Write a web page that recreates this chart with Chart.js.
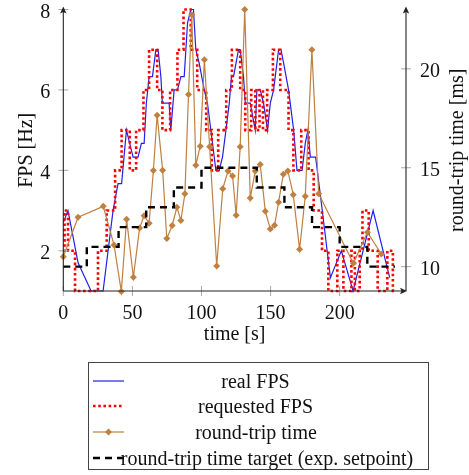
<!DOCTYPE html>
<html>
<head>
<meta charset="utf-8">
<script src="https://cdn.jsdelivr.net/npm/chart.js@4.4.1/dist/chart.umd.min.js"></script>
<style>
  html, body { margin: 0; padding: 0; background: #fff; }
</style>
</head>
<body>
<canvas id="fps-chart" width="469" height="475"></canvas>
<script>
// real FPS as measured (time [s], FPS [Hz])
const realTime = [0, 3.4, 10.7, 20.1, 28.8, 36.0, 39.6, 42.2, 45.7, 50.5, 54.1, 56.5, 58.5, 60.1, 62.1, 64.5,
  67.0, 68.6, 70.6, 71.7, 76.6, 77.8, 80.2, 82.6, 85.1, 87.5, 89.9, 92.3, 94.2, 95.9, 98.3, 102.0, 104.3,
  106.8, 110.4, 112.8, 115.2, 117.7, 120.1, 121.7, 123.2, 126.8, 128.0, 130.4, 131.7, 135.3, 138.9, 140.1,
  142.5, 144.9, 147.8, 149.8, 152.2, 155.8, 157.5, 159.4, 163.0, 166.7, 169.1, 172.8, 175.1, 177.0, 178.8,
  182.6, 186.7, 193.3, 201.2, 209.7, 224.2, 236.2];
const realFps = [2.7, 3.0, 1.7, 1.0, 1.0, 3.0, 3.67, 3.67, 5.0, 4.33, 4.33, 4.67, 4.67, 5.67, 6.33, 6.33,
  7.0, 7.0, 6.33, 5.67, 5.67, 5.0, 6.0, 6.0, 6.33, 6.33, 7.67, 8.0, 8.0, 7.0, 6.67, 6.0, 5.67,
  5.0, 4.0, 4.0, 4.33, 5.0, 5.67, 6.33, 6.33, 7.0, 7.0, 6.33, 5.67, 5.67, 5.0, 6.0,
  6.0, 5.67, 5.0, 5.67, 6.0, 7.0, 7.0, 6.67, 6.0, 5.0, 4.0, 4.0, 4.67, 5.0, 4.33,
  4.33, 3.2, 1.33, 2.0, 1.0, 3.0, 1.33];

// requested FPS, each value holds from its change time on
const reqTime = [0, 0.9, 3.4, 8.5, 25.1, 31.4, 37.5, 42.2, 48.1, 52.7, 58, 62.1, 67.9, 71.7, 77.3, 82.6,
  87, 92.2, 96.9, 103.4, 107.4, 112.1, 117.9, 122, 128, 131.7, 136, 139, 142, 144.5, 147.5, 151.7,
  157, 163, 166.5, 172.2, 177.5, 181.2, 187.2, 191.8, 198.3, 202.7, 208.5, 211, 214.5, 216.5, 221,
  227.5, 234.5, 238.5, 240];
const reqFps = [2, 3, 2, 1, 2, 3, 4, 5, 4, 5, 6, 7, 6, 5, 6, 7,
  8, 7, 6, 5, 4, 5, 6, 7, 6, 5, 6, 5, 6, 5, 6, 7,
  6, 5, 4, 5, 4, 3, 2, 1, 2, 1, 2, 1, 2, 3, 2,
  1, 2, 1, 1];

// round-trip time samples (time [s], ms)
const rttTime = [0, 10.7, 28.9, 36.7, 42, 45.8, 50.7, 55.2, 58.5, 62.1, 65.2, 67.9, 71.9, 74.9, 78.8, 82.2,
  85.1, 88, 90.6, 93, 95.9, 99.1, 102.1, 105.9, 111, 115.4, 119.2, 122.5, 125.1, 128, 131.3, 135.3,
  138.9, 142.5, 146.2, 149.8, 152.9, 155.8, 159.2, 162.5, 166.4, 171, 175.1, 179.9, 184.8, 209.9,
  220.1, 230.1];
const rttMs = [10.5, 12.5, 13.05, 11.1, 8.75, 12.4, 9.46, 11.95, 12.57, 12.2, 14.86, 17.66, 14.87, 11.42, 12.08, 13.0,
  12.34, 13.69, 18.7, 22.74, 15.13, 16.09, 20.46, 16.06, 10.03, 13.94, 14.84, 14.58, 12.6, 16.06, 23.0, 13.47,
  14.84, 15.16, 12.8, 11.9, 12.1, 13.26, 14.67, 14.84, 13.64, 10.88, 13.56, 20.96, 13.69, 10.17,
  11.74, 10.64];

// round-trip time target (exp. setpoint), steps in ms
const targetTime = [0, 17, 40, 60, 80, 100, 140, 160, 180, 200, 220, 240];
const targetMs = [10, 11, 12, 13, 14, 15, 14, 13, 12, 11, 10, 10];

const timeTicks = [0, 50, 100, 150, 200];
const fpsTicks = [2, 4, 6, 8];
const msTicks = [10, 15, 20];

const FONT = 'Liberation Serif, "Times New Roman", serif';
const pts = (xs, ys) => xs.map((x, i) => ({ x: x, y: ys[i] }));
const fixedTicks = list => scale => { scale.ticks = list.map(v => ({ value: v })); };
// fixed scale size, and no extra room reserved for the end labels
const fitTo = (prop, size) => scale => {
  scale[prop] = size;
  scale.paddingTop = scale.paddingBottom = scale.paddingLeft = scale.paddingRight = 0;
};

function arrowHead(ctx, x, y, dir) {
  // small filled arrow, dir: 'up' or 'right'
  ctx.beginPath();
  if (dir === 'up') {
    ctx.moveTo(x, y - 2);
    ctx.lineTo(x - 3.2, y + 5);
    ctx.lineTo(x, y + 3.5);
    ctx.lineTo(x + 3.2, y + 5);
  } else {
    ctx.moveTo(x + 2, y);
    ctx.lineTo(x - 5, y - 3.2);
    ctx.lineTo(x - 3.5, y);
    ctx.lineTo(x - 5, y + 3.2);
  }
  ctx.closePath();
  ctx.fill();
}

// axis lines with arrows, crossing tick marks, titles and the boxed legend
const pgfAxes = {
  id: 'pgfAxes',
  afterDraw(chart) {
    const { ctx, chartArea: a, scales } = chart;
    const seg = (x1, y1, x2, y2) => { ctx.beginPath(); ctx.moveTo(x1, y1); ctx.lineTo(x2, y2); ctx.stroke(); };
    ctx.save();

    ctx.strokeStyle = '#a8a8a8';
    ctx.lineWidth = 1;
    timeTicks.forEach(v => { const x = scales.x.getPixelForValue(v); seg(x, a.bottom - 5, x, a.bottom + 5); });
    fpsTicks.forEach(v => { const y = scales.fps.getPixelForValue(v); seg(a.left - 5, y, a.left + 5, y); });
    msTicks.forEach(v => { const y = scales.ms.getPixelForValue(v); seg(a.right - 5, y, a.right + 5, y); });

    ctx.strokeStyle = '#222';
    ctx.fillStyle = '#222';
    ctx.lineWidth = 1.1;
    seg(a.left, a.bottom, a.left, a.top);
    seg(a.left, a.bottom, a.right - 2, a.bottom);
    seg(a.right, a.bottom, a.right, a.top);
    arrowHead(ctx, a.left, a.top - 1, 'up');
    arrowHead(ctx, a.right, a.top - 1, 'up');
    arrowHead(ctx, a.right - 1, a.bottom, 'right');

    ctx.fillStyle = '#111';
    ctx.font = '20px ' + FONT;
    ctx.textAlign = 'center';
    ctx.textBaseline = 'middle';
    ctx.fillText('time [s]', (a.left + a.right) / 2, 335);
    const midY = (a.top + a.bottom) / 2;
    [['FPS [Hz]', 24.5], ['round-trip time [ms]', 455.5]].forEach(([t, x]) => {
      ctx.save();
      ctx.translate(x, midY);
      ctx.rotate(-Math.PI / 2);
      ctx.fillText(t, 0, 2);
      ctx.restore();
    });

    // legend
    ctx.strokeStyle = '#444';
    ctx.lineWidth = 1;
    ctx.strokeRect(88.5, 362.5, 340, 107);
    const rowY = [381, 406, 432, 458];
    const textX = [255.5, 255.5, 256, 267];
    chart.data.datasets.forEach((ds, i) => {
      const y = rowY[i];
      ctx.save();
      ctx.strokeStyle = ds.borderColor;
      ctx.lineWidth = ds.borderWidth;
      ctx.setLineDash(ds.borderDash || []);
      seg(93, y, 124, y);
      if (ds.pointRadius > 0) {
        ctx.fillStyle = ds.borderColor;
        const r = ds.pointRadius;
        ctx.beginPath();
        ctx.moveTo(108.5, y - r); ctx.lineTo(108.5 + r, y); ctx.lineTo(108.5, y + r); ctx.lineTo(108.5 - r, y);
        ctx.closePath();
        ctx.fill();
      }
      ctx.restore();
      ctx.fillText(ds.label, textX[i], y + 2);
    });
    ctx.restore();
  }
};

const ctx = document.getElementById('fps-chart').getContext('2d');
new Chart(ctx, {
  type: 'line',
  data: {
    datasets: [{
      label: 'real FPS',
      data: pts(realTime, realFps),
      yAxisID: 'fps',
      borderColor: '#2020ee',
      borderWidth: 1.2,
      pointRadius: 0,
      clip: false,
      order: 4
    }, {
      label: 'requested FPS',
      data: pts(reqTime, reqFps),
      yAxisID: 'fps',
      stepped: true,
      borderColor: '#ff0000',
      borderWidth: 2.6,
      borderDash: [2.6, 2.6],
      pointRadius: 0,
      clip: false,
      order: 3
    }, {
      label: 'round-trip time',
      data: pts(rttTime, rttMs),
      yAxisID: 'ms',
      borderColor: '#bf8040',
      borderWidth: 1.2,
      pointStyle: 'rectRot',
      pointRadius: 3.5,
      pointBorderWidth: 0,
      pointBackgroundColor: '#bf8040',
      clip: false,
      order: 2
    }, {
      label: 'round-trip time target (exp. setpoint)',
      data: pts(targetTime, targetMs),
      yAxisID: 'ms',
      stepped: true,
      borderColor: '#000000',
      borderWidth: 2.4,
      borderDash: [7, 5],
      pointRadius: 0,
      clip: false,
      order: 1
    }]
  },
  options: {
    responsive: false,
    animation: false,
    layout: { padding: { top: 9.5 } },
    plugins: { legend: { display: false }, tooltip: { enabled: false } },
    scales: {
      x: {
        type: 'linear', min: 0, max: 248,
        grid: { display: false, drawTicks: false },
        border: { display: false },
        ticks: { color: '#111', padding: 11, font: { family: FONT, size: 20 } },
        afterBuildTicks: fixedTicks(timeTicks),
        afterFit: fitTo('height', 184)
      },
      fps: {
        type: 'linear', position: 'left', min: 1, max: 8,
        grid: { display: false, drawTicks: false },
        border: { display: false },
        ticks: { color: '#111', padding: 13, labelOffset: 3, font: { family: FONT, size: 20 } },
        afterBuildTicks: fixedTicks(fpsTicks),
        afterFit: fitTo('width', 63.3)
      },
      ms: {
        type: 'linear', position: 'right', min: 8.77, max: 23.0,
        grid: { display: false, drawTicks: false },
        border: { display: false },
        ticks: { color: '#111', padding: 14, labelOffset: 3, font: { family: FONT, size: 20 } },
        afterBuildTicks: fixedTicks(msTicks),
        afterFit: fitTo('width', 63)
      }
    }
  },
  plugins: [pgfAxes]
});
</script>
</body>
</html>
